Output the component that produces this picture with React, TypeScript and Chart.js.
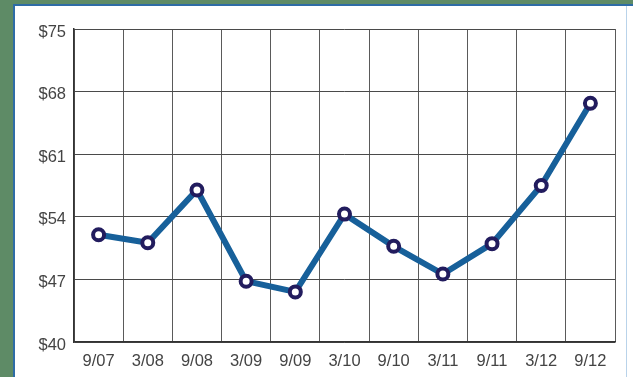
import React, { useEffect, useRef } from "react";
import { Chart, registerables } from "chart.js";

Chart.register(...registerables);

const categories = ["9/07", "3/08", "9/08", "3/09", "9/09", "3/10", "9/10", "3/11", "9/11", "3/12", "9/12"];
const prices = [52.0, 51.1, 57.0, 46.8, 45.6, 54.3, 50.7, 47.6, 51.0, 57.5, 66.7];
const yMin = 40;
const yMax = 75;
const yStep = 7;

export default function App() {
  const ref = useRef<HTMLCanvasElement | null>(null);

  useEffect(() => {
    document.body.style.margin = "0";
    const canvas = ref.current;
    if (!canvas) return;
    const font = { family: "'Liberation Sans', Arial, sans-serif", size: 16.5 };
    const chart = new Chart(canvas, {
      type: "line",
      data: {
        labels: categories,
        datasets: [
          {
            data: prices,
            borderColor: "#17609a",
            borderWidth: 6,
            pointRadius: 5.5,
            pointHoverRadius: 5.5,
            pointBorderWidth: 4,
            pointBorderColor: "#221c5e",
            pointBackgroundColor: "#ffffff",
            tension: 0,
            fill: false,
          },
        ],
      },
      options: {
        animation: false,
        responsive: false,
        maintainAspectRatio: false,
        layout: { padding: { left: 0, top: 29, right: 18, bottom: 0 } },
        plugins: { legend: { display: false }, tooltip: { enabled: false } },
        scales: {
          x: {
            type: "category",
            offset: true,
            grid: { offset: true, color: "#5a5a5a", lineWidth: 1, drawTicks: false },
            border: { color: "#333333", width: 1.5 },
            ticks: {
              color: "#444444",
              padding: 10,
              font,
              maxRotation: 0,
              autoSkip: false,
            },
            afterFit: (s: any) => {
              s.height = 35;
            },
          },
          y: {
            min: yMin,
            max: yMax,
            grid: { color: "#4a4a4a", lineWidth: 1, drawTicks: false },
            border: { color: "#333333", width: 1.5 },
            ticks: {
              stepSize: yStep,
              color: "#444444",
              padding: 8,
              labelOffset: 3,
              font,
              callback: (v: any) => "$" + v,
            },
            afterFit: (s: any) => {
              s.width = 74;
            },
          },
        },
      },
    });
    return () => chart.destroy();
  }, []);

  return (
    <div style={{ position: "fixed", left: 0, top: 0, width: 633, height: 377, background: "#5e8b66", overflow: "hidden" }}>
      <div
        style={{
          position: "absolute",
          left: 13,
          top: 4,
          width: 620,
          height: 373,
          background: "#ffffff",
          borderLeft: "2px solid #2e6ca6",
          borderTop: "2px solid #2e6ca6",
          boxSizing: "border-box",
        }}
      />
      <div style={{ position: "absolute", left: 626, top: 6, width: 1, height: 371, background: "#b9d3ea" }} />
      <canvas ref={ref} width={633} height={377} style={{ position: "absolute", left: 0, top: 0, width: 633, height: 377 }} />
    </div>
  );
}
